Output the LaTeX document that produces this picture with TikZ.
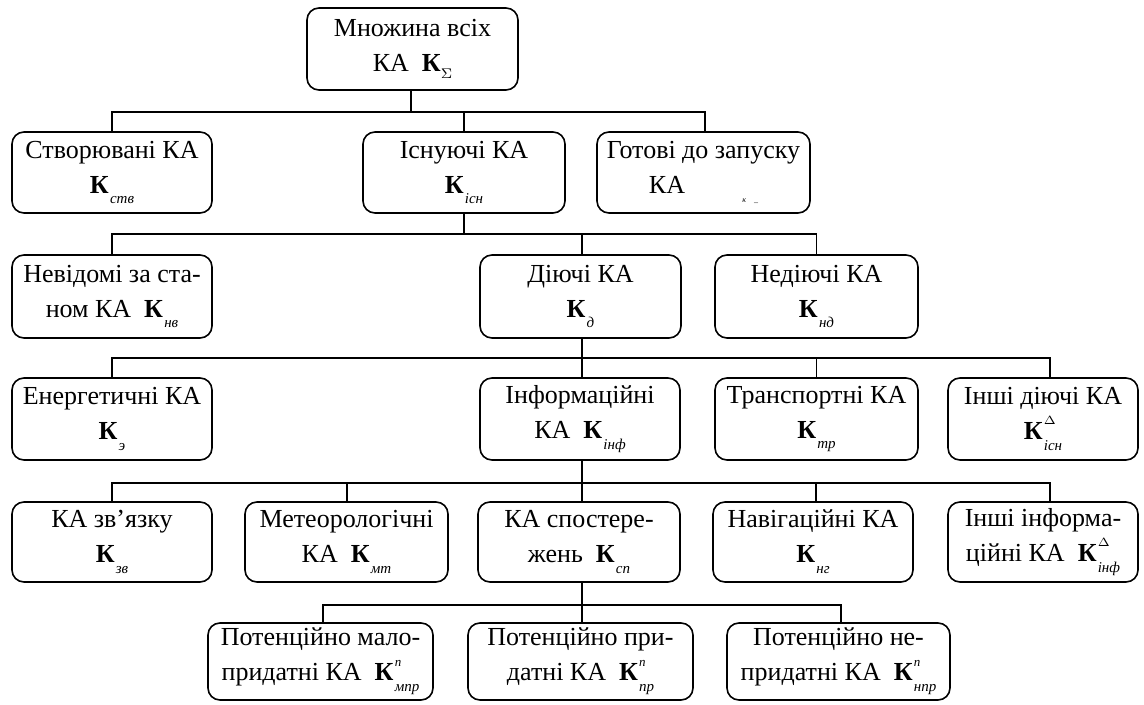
\documentclass[tikz,border=0pt]{standalone}
\usepackage{fontspec}
\setmainfont{Liberation Serif}
\newcommand\subf{\fontsize{7.5}{8}\selectfont\itshape}
\newcommand\supf{\fontsize{6.5}{7}\selectfont\itshape}
\newcommand\Kb[2]{\textbf{К}\kern0.6pt\rlap{\raisebox{1.25ex}{\supf #2}}\raisebox{-0.9ex}{\subf #1}}
\begin{document}
\begin{tikzpicture}[x=0.5pt,y=-0.5pt,
  box/.style={draw,line width=0.8pt,rounded corners=6pt,align=center,inner sep=1pt,
    font=\fontsize{13}{17.5}\selectfont},
  conn/.style={line width=0.8pt}]
\useasboundingbox (0,0) rectangle (1144,705);
% row 0
\node[box,minimum width=105.5pt,minimum height=41pt] (top) at (412.5,49) {Множина всіх\\КА~~\textbf{К}\raisebox{-0.6ex}{\fontsize{7}{8}\selectfont$\Sigma$}};
% row 1
\node[box,minimum width=100pt,minimum height=40.5pt] (ctv) at (112,172.5) {Створювані КА\\\Kb{ств}{}};
\node[box,minimum width=101pt,minimum height=40.5pt] (isn) at (464,172.5) {Існуючі КА\\\Kb{існ}{}};
\node[box,minimum width=106.5pt,minimum height=40.5pt] (got) at (703.5,172.5) {Готові до запуску\\КА\hspace{2.2em}\raisebox{-0.8ex}{\fontsize{4}{5}\selectfont\itshape к\hspace{1em}\_}\hspace{1.5em}};
% row 2
\node[box,minimum width=100pt,minimum height=41.5pt] (nev) at (112,296.5) {Невідомі за ста-\\ном КА~~\Kb{нв}{}};
\node[box,minimum width=100.5pt,minimum height=41.5pt] (diy) at (580.5,296.5) {Діючі КА\\\Kb{д}{}};
\node[box,minimum width=101.5pt,minimum height=41.5pt] (ndiy) at (816.5,296.5) {Недіючі КА\\\Kb{нд}{}};
% row 3
\node[box,minimum width=100pt,minimum height=41pt] (ener) at (112,419) {Енергетичні КА\\\Kb{э}{}};
\node[box,minimum width=100pt,minimum height=41pt] (inf) at (580,419) {Інформаційні\\КА~~\Kb{інф}{}};
\node[box,minimum width=101.5pt,minimum height=41pt] (tr) at (816.5,419) {Транспортні КА\\\Kb{тр}{}};
\node[box,minimum width=95pt,minimum height=41pt] (insh) at (1043,419) {Інші діючі КА\\\Kb{існ}{$\Delta$}};
% row 4
\node[box,minimum width=100pt,minimum height=40pt] (zv) at (112,542) {КА зв’язку\\\Kb{зв}{}};
\node[box,minimum width=101.5pt,minimum height=40pt] (met) at (346.5,542) {Метеорологічні\\КА~~\Kb{мт}{}};
\node[box,minimum width=101pt,minimum height=40pt] (sp) at (579,542) {КА спостере-\\жень~~\Kb{сп}{}};
\node[box,minimum width=100pt,minimum height=40pt] (nav) at (813,542) {Навігаційні КА\\\Kb{нг}{}};
\node[box,minimum width=95pt,minimum height=40pt] (inshinf) at (1043,542) {Інші інформа-\\ційні КА~~\Kb{інф}{$\Delta$}};
% row 5
\node[box,minimum width=112.5pt,minimum height=38.5pt] (p1) at (320.5,661.5) {Потенційно мало-\\придатні КА~~\Kb{мпр}{п}};
\node[box,minimum width=112.5pt,minimum height=38.5pt] (p2) at (580.5,661.5) {Потенційно при-\\датні КА~~\Kb{пр}{п}};
\node[box,minimum width=111.5pt,minimum height=38.5pt] (p3) at (838.5,661.5) {Потенційно не-\\придатні КА~~\Kb{нпр}{п}};
% buses
\coordinate (b1) at (0,112);
\coordinate (b2) at (0,234);
\coordinate (b3) at (0,358);
\coordinate (b4) at (0,483);
\coordinate (b5) at (0,605);
\coordinate (t0) at ([xshift=-0.75pt]top.south);
\foreach \c/\s in {ctv/0,isn/0,got/0.75} {
  \draw[conn] (t0) -- (t0 |- b1) -| ([xshift=\s pt]\c.north);
}
\foreach \c/\s in {nev/0,diy/0.75,ndiy/0} {
  \draw[conn] (isn.south) -- (isn.south |- b2) -| ([xshift=\s pt]\c.north);
}
\coordinate (t2) at ([xshift=0.75pt]diy.south);
\foreach \c/\s in {ener/0,inf/1,tr/0,insh/3.5} {
  \draw[conn] (t2) -- (t2 |- b3) -| ([xshift=\s pt]\c.north);
}
\coordinate (t3) at ([xshift=1pt]inf.south);
\foreach \c/\s in {zv/0,met/0.25,sp/1.5,nav/1.5,inshinf/3.5} {
  \draw[conn] (t3) -- (t3 |- b4) -| ([xshift=\s pt]\c.north);
}
\coordinate (t4) at ([xshift=1.5pt]sp.south);
\foreach \c/\s in {p1/1.25,p2/0.75,p3/1.25} {
  \draw[conn] (t4) -- (t4 |- b5) -| ([xshift=\s pt]\c.north);
}
\end{tikzpicture}
\end{document}
